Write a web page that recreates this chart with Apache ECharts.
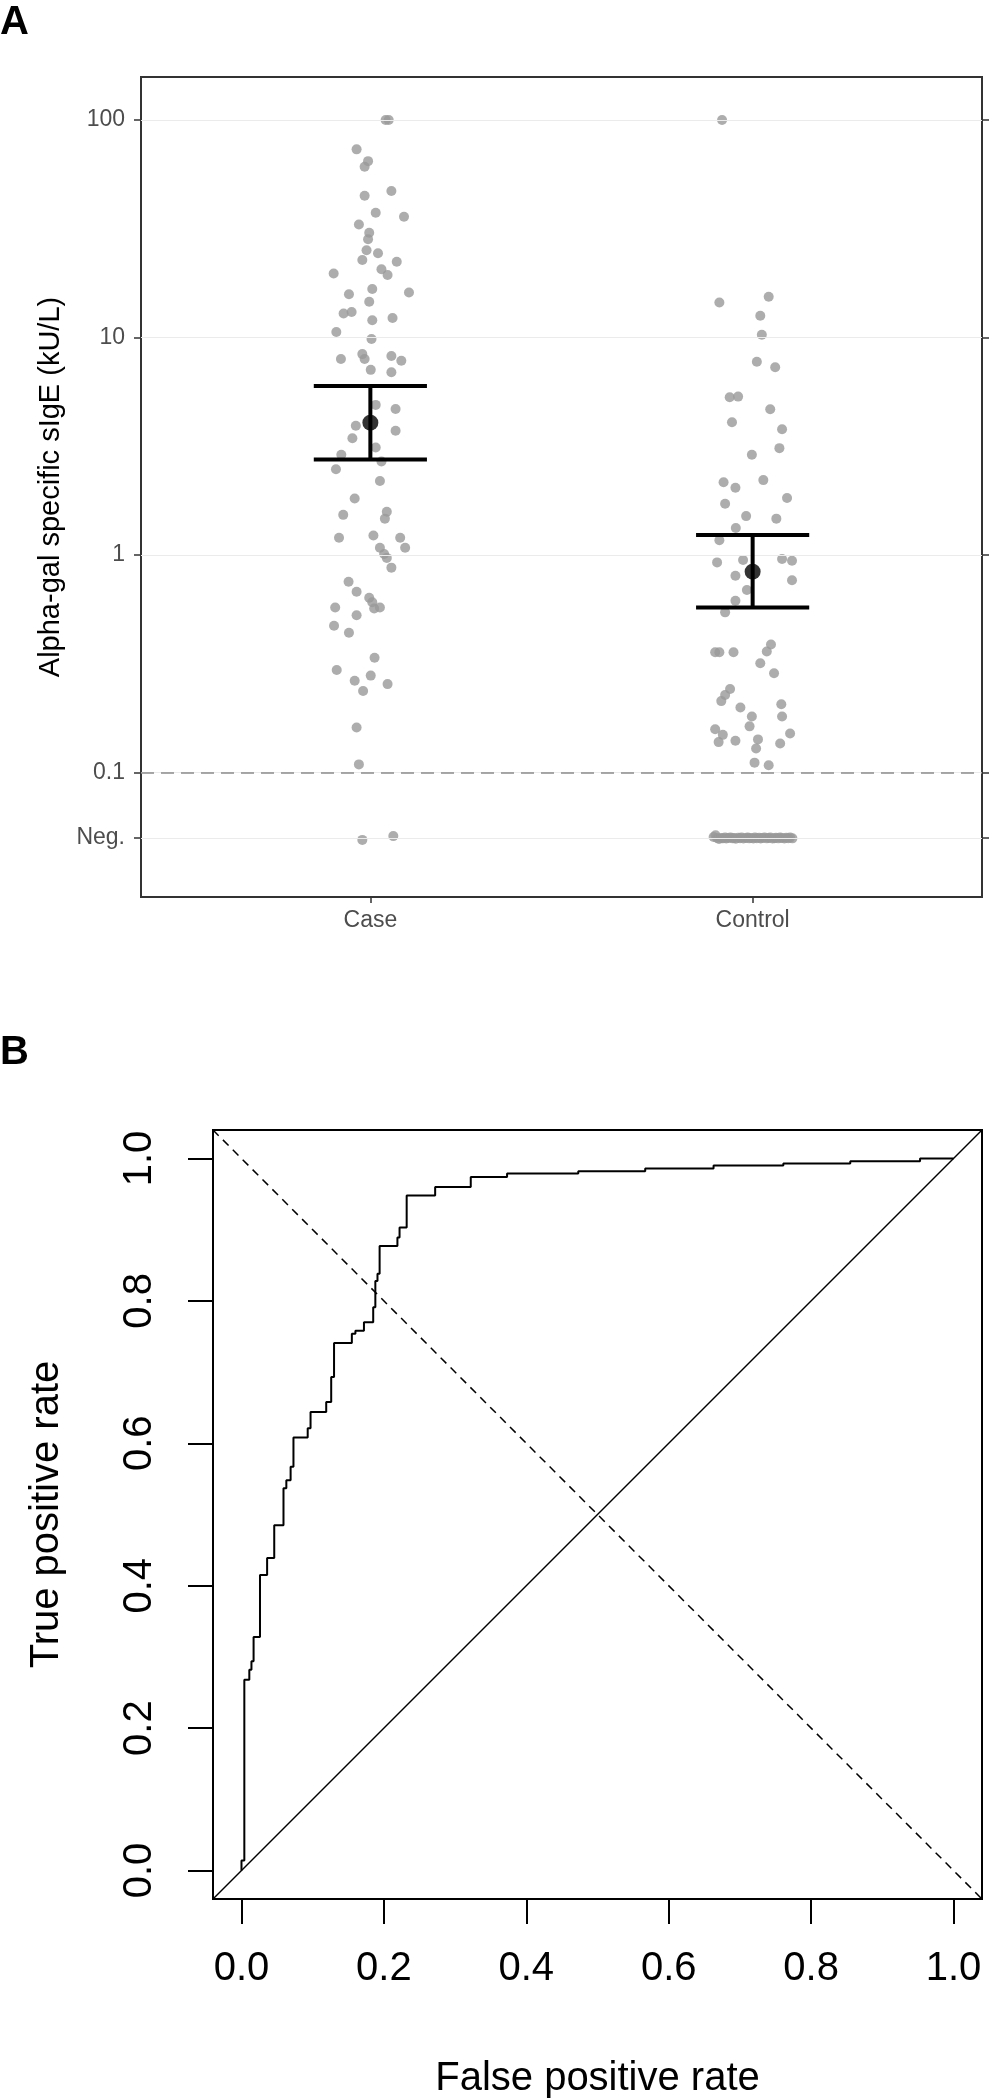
<!DOCTYPE html>
<html>
<head>
<meta charset="utf-8">
<script src="https://cdn.jsdelivr.net/npm/echarts@6/dist/echarts.min.js"></script>
<style>
html,body{margin:0;padding:0;background:#fff;}
#chart{width:993px;height:2100px;}
</style>
</head>
<body>
<div id="chart"></div>
<script>
// ---------- Panel A data ----------
const categories = ['Case', 'Control'];
const yTickValues = [0.05, 0.1, 1, 10, 100];
const yTickLabels = ['Neg.', '0.1', '1', '10', '100'];
const negValue = 0.05;
const cutoffValue = 0.1;

// Case: jittered category position and sIgE value (kU/L)
const caseX = [1.040, 1.048, 0.964, 0.994, 0.985, 1.055, 0.985, 1.014, 1.088, 0.970,
  0.997, 0.994, 0.990, 1.020, 0.979, 1.069, 0.904, 1.029, 1.045, 1.101,
  0.944, 1.005, 0.997, 0.930, 0.951, 1.058, 1.005, 0.911, 1.003, 0.923,
  0.979, 0.985, 1.055, 1.081, 1.001, 1.055, 1.014, 1.066, 0.962, 1.066,
  0.953, 1.014, 0.924, 1.029, 0.910, 1.025, 0.959, 0.929, 1.043, 1.038,
  0.918, 1.008, 1.078, 1.025, 1.091, 1.036, 1.043, 1.055, 0.943, 0.964,
  0.997, 1.005, 1.010, 1.025, 0.908, 0.964, 0.905, 0.944, 1.011, 0.912,
  0.959, 1.001, 1.045, 0.981, 0.964, 0.970, 0.979, 1.060];
const caseY = [100, 100, 73.3, 64.7, 61.0, 47.2, 44.9, 37.5, 35.9, 33.1,
  30.3, 28.3, 25.2, 24.4, 22.7, 22.3, 19.7, 20.6, 19.4, 16.1,
  15.8, 16.7, 14.6, 12.9, 13.1, 12.3, 12.0, 10.6, 9.85, 7.96,
  8.39, 7.96, 8.22, 7.82, 7.10, 6.92, 4.90, 4.69, 3.93, 3.73,
  3.44, 3.12, 2.89, 2.69, 2.48, 2.19, 1.82, 1.53, 1.58, 1.47,
  1.20, 1.23, 1.20, 1.08, 1.08, 1.01, 0.97, 0.875, 0.754, 0.678,
  0.636, 0.606, 0.568, 0.574, 0.574, 0.529, 0.473, 0.439, 0.337, 0.296,
  0.264, 0.279, 0.255, 0.237, 0.161, 0.109, 0.049, 0.051];

// Control: positive values
const ctrlX = [1.920, 2.042, 1.913, 2.020, 2.024, 2.011, 2.059, 1.940, 1.962, 2.046,
  1.946, 2.077, 2.070, 1.998, 1.924, 1.955, 2.028, 2.090, 1.928, 1.983,
  2.062, 1.956, 1.913, 1.907, 1.975, 2.077, 2.103, 1.955, 2.103, 1.985,
  1.955, 1.928, 1.902, 1.913, 1.950, 2.048, 2.037, 2.020, 2.056, 1.941,
  1.928, 1.918, 1.968, 2.075, 1.998, 2.077, 1.992, 1.902, 1.922, 1.911,
  1.955, 2.014, 2.009, 2.072, 2.098, 2.005, 2.042];
const ctrlY = [100, 15.4, 14.5, 12.6, 10.3, 7.74, 7.30, 5.31, 5.35, 4.68,
  4.08, 3.79, 3.10, 2.89, 2.16, 2.04, 2.21, 1.83, 1.72, 1.51,
  1.47, 1.33, 1.17, 0.925, 0.948, 0.959, 0.942, 0.803, 0.765, 0.691,
  0.616, 0.545, 0.357, 0.357, 0.357, 0.388, 0.360, 0.318, 0.286, 0.242,
  0.227, 0.213, 0.199, 0.206, 0.181, 0.181, 0.163, 0.158, 0.149, 0.138,
  0.140, 0.142, 0.129, 0.136, 0.151, 0.111, 0.108];
// Control: negatives (plotted at the "Neg." level)
const ctrlNegX = [1.898, 1.903, 1.907, 1.912, 1.918, 1.922, 1.928, 1.931, 1.937, 1.942,
  1.948, 1.951, 1.956, 1.962, 1.967, 1.971, 1.976, 1.982, 1.987, 1.991,
  1.996, 2.002, 2.006, 2.011, 2.017, 2.021, 2.026, 2.031, 2.037, 2.042,
  2.046, 2.052, 2.057, 2.061, 2.067, 2.072, 2.077, 2.083, 2.088, 2.093,
  2.098, 2.104];
const ctrlNegY = [0.0505, 0.0515, 0.0500, 0.0495, 0.0500, 0.0498, 0.0502, 0.0497, 0.0500, 0.0503,
  0.0498, 0.0500, 0.0496, 0.0501, 0.0499, 0.0503, 0.0497, 0.0500, 0.0502, 0.0498,
  0.0500, 0.0497, 0.0502, 0.0499, 0.0501, 0.0497, 0.0500, 0.0503, 0.0498, 0.0500,
  0.0502, 0.0497, 0.0499, 0.0501, 0.0498, 0.0502, 0.0500, 0.0497, 0.0501, 0.0499,
  0.0502, 0.0498];

// Geometric means with 95% CI
const meanX = [1, 2];
const meanVal = [4.06, 0.838];
const ciLow = [2.75, 0.573];
const ciHigh = [5.98, 1.236];

// ---------- Panel B data (ROC curve) ----------
const rocFpr = [0, 0, 0.004, 0.004, 0.011, 0.011, 0.014, 0.014, 0.017, 0.017,
  0.026, 0.026, 0.036, 0.036, 0.046, 0.046, 0.059, 0.059, 0.063, 0.063,
  0.069, 0.069, 0.073, 0.073, 0.093, 0.093, 0.097, 0.097, 0.119, 0.119,
  0.126, 0.126, 0.130, 0.130, 0.155, 0.155, 0.160, 0.160, 0.172, 0.172,
  0.185, 0.185, 0.188, 0.188, 0.191, 0.191, 0.194, 0.194, 0.219, 0.219,
  0.222, 0.222, 0.232, 0.232, 0.272, 0.272, 0.322, 0.322, 0.373, 0.373,
  0.473, 0.473, 0.567, 0.567, 0.663, 0.663, 0.761, 0.761, 0.855, 0.855,
  0.953, 0.953, 1.0];
const rocTpr = [0, 0.014, 0.014, 0.268, 0.268, 0.282, 0.282, 0.294, 0.294, 0.328,
  0.328, 0.415, 0.415, 0.439, 0.439, 0.485, 0.485, 0.537, 0.537, 0.548,
  0.548, 0.567, 0.567, 0.608, 0.608, 0.621, 0.621, 0.644, 0.644, 0.658,
  0.658, 0.693, 0.693, 0.741, 0.741, 0.754, 0.754, 0.758, 0.758, 0.770,
  0.770, 0.791, 0.791, 0.828, 0.828, 0.838, 0.838, 0.877, 0.877, 0.889,
  0.889, 0.903, 0.903, 0.948, 0.948, 0.960, 0.960, 0.974, 0.974, 0.979,
  0.979, 0.982, 0.982, 0.986, 0.986, 0.990, 0.990, 0.993, 0.993, 0.996,
  0.996, 1.0, 1.0];
const rocTicks = [0, 0.2, 0.4, 0.6, 0.8, 1.0];
const refLineX = [-0.04, 1.04];

// ---------- build ----------
const L = v => Math.log10(v);
const FONT = "'Liberation Sans', Arial, Helvetica, sans-serif";
const zip = (xs, ys, f) => xs.map((x, i) => [x, f ? f(ys[i]) : ys[i]]);

const yTickPos = yTickValues.map(L);
const labelFor = v => {
  let best = 0, d = Infinity;
  yTickPos.forEach((p, i) => { const dd = Math.abs(p - v); if (dd < d) { d = dd; best = i; } });
  return yTickLabels[best];
};

const chart = echarts.init(document.getElementById('chart'), null, {renderer: 'canvas'});

const option = {
  animation: false,
  backgroundColor: '#ffffff',
  textStyle: {fontFamily: FONT},
  graphic: [
    {type: 'text', left: 0, top: 3, style: {text: 'A', font: "bold 40px " + FONT, fill: '#000'}},
    {type: 'text', left: 0, top: 1033, style: {text: 'B', font: "bold 40px " + FONT, fill: '#000'}}
  ],
  grid: [
    {left: 141, top: 77, width: 841, height: 820, show: true, borderColor: '#333333', borderWidth: 2, backgroundColor: 'transparent', containLabel: false},
    {left: 213, top: 1130, width: 769, height: 771, show: true, borderColor: '#000000', borderWidth: 2, backgroundColor: 'transparent', containLabel: false}
  ],
  xAxis: [
    {
      type: 'value', gridIndex: 0, min: 0.4, max: 2.6,
      axisLine: {show: false, onZero: false},
      splitLine: {show: false},
      axisTick: {show: true, inside: false, length: 6, customValues: [1, 2], lineStyle: {color: '#333333', width: 1.5}},
      axisLabel: {customValues: [1, 2], margin: 12, fontSize: 23, color: '#4d4d4d', fontFamily: FONT,
        formatter: v => categories[Math.round(v) - 1]}
    },
    {
      type: 'value', gridIndex: 1, min: -0.04, max: 1.04,
      axisLine: {show: false, onZero: false},
      splitLine: {show: false},
      axisTick: {show: true, inside: false, length: 25, customValues: rocTicks, lineStyle: {color: '#000', width: 2}},
      axisLabel: {customValues: rocTicks, margin: 50, fontSize: 40, color: '#000', fontFamily: FONT,
        formatter: v => v.toFixed(1)},
      name: 'False positive rate', nameLocation: 'middle', nameGap: 160,
      nameTextStyle: {fontSize: 40, color: '#000', fontFamily: FONT}
    }
  ],
  yAxis: [
    {
      type: 'value', gridIndex: 0, min: L(0.02677), max: L(157.7), position: 'left',
      axisLine: {show: false, onZero: false},
      splitLine: {show: false},
      axisTick: {show: true, inside: false, length: 7, customValues: yTickPos, lineStyle: {color: '#333333', width: 1.5}},
      axisLabel: {customValues: yTickPos, margin: 16, fontSize: 23, color: '#4d4d4d', fontFamily: FONT,
        formatter: v => labelFor(v)},
      name: 'Alpha-gal specific sIgE (kU/L)', nameLocation: 'middle', nameGap: 75,
      nameTextStyle: {fontSize: 29, color: '#000', fontFamily: FONT}
    },
    {
      type: 'value', gridIndex: 0, min: L(0.02677), max: L(157.7), position: 'right',
      axisLine: {show: false, onZero: false},
      splitLine: {show: false},
      axisTick: {show: true, inside: false, length: 7, customValues: yTickPos, lineStyle: {color: '#333333', width: 1.5}},
      axisLabel: {show: false}
    },
    {
      type: 'value', gridIndex: 1, min: -0.04, max: 1.04, position: 'left',
      axisLine: {show: false, onZero: false},
      splitLine: {show: false},
      axisTick: {show: true, inside: false, length: 25, customValues: rocTicks, lineStyle: {color: '#000', width: 2}},
      axisLabel: {customValues: rocTicks, margin: 53, fontSize: 40, color: '#000', fontFamily: FONT, rotate: 90,
        formatter: v => v.toFixed(1)},
      name: 'True positive rate', nameLocation: 'middle', nameGap: 146,
      nameTextStyle: {fontSize: 40, color: '#000', fontFamily: FONT}
    }
  ],
  series: [
    // gridlines & cutoff
    {
      type: 'line', xAxisIndex: 0, yAxisIndex: 0, data: [], silent: true,
      markLine: {
        silent: true, symbol: 'none', label: {show: false}, animation: false,
        data: yTickValues.map(v => ({yAxis: L(v), lineStyle: {color: '#ebebeb', width: 1.2, type: 'solid'}}))
          .concat([{yAxis: L(cutoffValue), lineStyle: {color: '#8c8c8c', width: 1.6, type: [13, 7]}}])
      }
    },
    {
      name: 'Case', type: 'scatter', xAxisIndex: 0, yAxisIndex: 0, symbol: 'circle', symbolSize: 10,
      itemStyle: {color: '#999999'}, data: zip(caseX, caseY, L), z: 3
    },
    {
      name: 'Control', type: 'scatter', xAxisIndex: 0, yAxisIndex: 0, symbol: 'circle', symbolSize: 10,
      itemStyle: {color: '#999999'}, data: zip(ctrlX, ctrlY, L).concat(zip(ctrlNegX, ctrlNegY, L)), z: 3
    },
    {
      name: 'CI', type: 'custom', xAxisIndex: 0, yAxisIndex: 0, z: 5,
      data: meanX.map((x, i) => [x, L(ciLow[i]), L(ciHigh[i])]),
      renderItem: (params, api) => {
        const x = api.value(0);
        const lo = api.coord([x, api.value(1)]);
        const hi = api.coord([x, api.value(2)]);
        const half = api.size([0.148, 0])[0];
        const st = {stroke: '#000', lineWidth: 4};
        return {type: 'group', children: [
          {type: 'line', shape: {x1: lo[0], y1: lo[1], x2: hi[0], y2: hi[1]}, style: st},
          {type: 'line', shape: {x1: lo[0] - half, y1: lo[1], x2: lo[0] + half, y2: lo[1]}, style: st},
          {type: 'line', shape: {x1: hi[0] - half, y1: hi[1], x2: hi[0] + half, y2: hi[1]}, style: st}
        ]};
      }
    },
    {
      name: 'Mean', type: 'scatter', xAxisIndex: 0, yAxisIndex: 0, symbol: 'circle', symbolSize: 16, z: 6,
      itemStyle: {color: '#000'}, data: zip(meanX, meanVal, L)
    },
    // Panel B
    {
      type: 'line', xAxisIndex: 1, yAxisIndex: 2, showSymbol: false, symbol: 'none',
      lineStyle: {color: '#000', width: 1.5, type: 'solid'}, data: zip(refLineX, refLineX)
    },
    {
      type: 'line', xAxisIndex: 1, yAxisIndex: 2, showSymbol: false, symbol: 'none',
      lineStyle: {color: '#000', width: 1.5, type: [8, 6]}, data: zip(refLineX, refLineX.map(v => 1 - v))
    },
    {
      name: 'ROC', type: 'line', xAxisIndex: 1, yAxisIndex: 2, showSymbol: false, symbol: 'none',
      lineStyle: {color: '#000', width: 2}, data: zip(rocFpr, rocTpr)
    }
  ]
};
chart.setOption(option);
</script>
</body>
</html>
